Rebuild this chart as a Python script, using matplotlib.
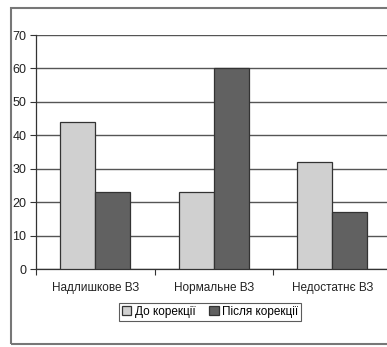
import matplotlib.pyplot as plt
import numpy as np
from matplotlib.patches import Rectangle

categories = ["Надлишкове ВЗ", "Нормальне ВЗ", "Недостатнє ВЗ"]
before = [44, 23, 32]
after = [23, 60, 17]
series_names = ["До корекції", "Після корекції"]
yticks = [0, 10, 20, 30, 40, 50, 60, 70]

plt.rcParams['font.family'] = ['Liberation Sans', 'DejaVu Sans']

W, H = 387, 347
fig = plt.figure(figsize=(W / 100, H / 100), dpi=100)

# outer frame around the whole chart
fig.patches.append(Rectangle((11 / W, 1 - 344 / H), 400 / W, 336 / H,
                             transform=fig.transFigure, fill=False,
                             edgecolor='#777777', linewidth=1.5))

ax = fig.add_axes([36 / W, 78 / H, 355.5 / W, 234 / H])
x = np.arange(len(categories))
bw = 0.295
ax.bar(x - bw / 2, before, bw, color='#d0d0d0', edgecolor='#333333',
       linewidth=0.9, label=series_names[0], zorder=3)
ax.bar(x + bw / 2, after, bw, color='#616161', edgecolor='#333333',
       linewidth=0.9, label=series_names[1], zorder=3)

ax.set_xlim(-0.5, len(categories) - 0.5)
ax.set_ylim(0, 70)
ax.set_yticks(yticks)
ax.yaxis.grid(True, color='#555555', linewidth=1.0, zorder=0)
ax.tick_params(axis='y', length=4, width=0.8, color='#333333',
               labelsize=9, pad=3, labelcolor='#222222')

# category boundaries as ticks, names centred between them
ax.set_xticks(np.arange(len(categories) + 1) - 0.5)
ax.set_xticklabels([])
ax.set_xticks(x, minor=True)
ax.set_xticklabels(categories, minor=True)
ax.tick_params(axis='x', which='major', length=4, width=0.8, color='#333333')
ax.tick_params(axis='x', which='minor', length=0, labelsize=8.5, pad=9,
               labelcolor='#222222')

for s in ['top', 'right']:
    ax.spines[s].set_visible(False)
for s in ['left', 'bottom']:
    ax.spines[s].set_color('#333333')
    ax.spines[s].set_linewidth(0.9)

leg = fig.legend(loc='center', bbox_to_anchor=(210 / W, 1 - 312 / H), ncol=2,
                 fontsize=8.5, frameon=True, fancybox=False, handlelength=0.8,
                 handleheight=0.8, handletextpad=0.3, columnspacing=1.2,
                 borderpad=0.25, borderaxespad=0)
leg.get_frame().set_edgecolor('#333333')
leg.get_frame().set_linewidth(0.8)

fig.savefig('out.png', dpi=100)
